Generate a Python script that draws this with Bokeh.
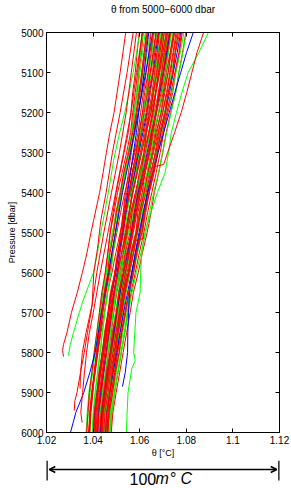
from bokeh.plotting import figure
from bokeh.layouts import column
from bokeh.models import (Range1d, LinearAxis, FixedTicker, Arrow, OpenHead,
                          ColumnDataSource)
from bokeh.core.properties import value
from bokeh.embed import file_html
from bokeh.resources import INLINE

# ---------------- data ----------------
# theta values are given in m°C above 1 °C (theta = 1 + v/1000)
title_text = "θ from 5000−6000 dbar"
x_ticks = [1.02, 1.04, 1.06, 1.08, 1.1, 1.12]
x_tick_labels = ["1.02", "1.04", "1.06", "1.08", "1.1", "1.12"]
y_ticks = [5000, 5100, 5200, 5300, 5400, 5500, 5600, 5700, 5800, 5900, 6000]
y_tick_labels = ["5000", "5100", "5200", "5300", "5400", "5500", "5600",
                 "5700", "5800", "5900", "6000"]
scale_bar = [1.02, 1.12]
scale_text = ["100", "m", "°", "C"]

pressure_grid = [5000, 5050, 5100, 5150, 5200, 5250, 5300, 5350, 5400, 5450,
                 5500, 5550, 5600, 5650, 5700, 5750, 5800, 5850, 5900, 5950, 6000]

bundle_green = [
    [63.8, 62.1, 61.4, 60.2, 58.6, 57.9, 56.1, 53.6, 51.9, 50.3, 48.7, 47.2, 45.8, 44.6, 43.1, 42.0, 40.9, 39.8, 38.7, 37.9, 37.4],
    [74.2, 73.1, 71.6, 70.4, 68.9, 67.2, 65.7, 63.9, 62.1, 60.8, 59.1, 57.2, 55.6, 54.1, 52.7, 51.3, 49.8, 48.7, 47.2, 46.1, 45.6],
    [67.4, 66.1, 64.9, 63.5, 62.2, 60.9, 59.8, 58.4, 56.9, 55.8, 54.6, 53.4, 52.1, 50.9, 49.6, 48.3, 47.1, 45.9, 44.6, 43.6, 43.1],
    [71.1, 70.2, 69.1, 68.2, 67.0, 65.8, 64.6, 63.7, 62.1, 61.2, 60.3, 58.9, 57.4, 55.9, 54.6, 53.4, 52.1, 50.6, 49.3, 48.1, 47.6],
    [64.6, 63.2, 62.1, 60.8, 59.4, 58.1, 56.0, 53.9, 51.6, 50.0, 48.2, 46.9, 45.6, 43.9, 42.7, 41.6, 40.4, 39.4, 38.2, 37.5, 37.0],
    [79.0, 77.4, 75.6, 73.8, 71.6, 69.4, 67.1, 64.8, 62.4, 60.3, 58.3, 56.1, 54.1, 52.2, 50.6, 49.1, 47.6, 46.1, 44.8, 43.6, 42.9],
    [61.4, 60.4, 59.5, 58.6, 57.6, 56.6, 55.1, 53.5, 51.9, 50.7, 49.6, 48.6, 47.6, 46.1, 45.1, 44.1, 43.1, 42.0, 41.0, 40.3, 39.9],
    [70.2, 68.9, 67.6, 66.1, 64.4, 62.7, 60.6, 58.5, 56.3, 54.4, 52.6, 50.9, 49.4, 47.8, 46.4, 45.1, 43.8, 42.6, 41.4, 40.4, 39.9],
    [76.4, 75.2, 73.6, 72.3, 70.6, 68.8, 67.3, 65.8, 63.9, 62.4, 60.9, 59.2, 57.3, 55.6, 54.1, 52.8, 51.4, 50.0, 48.6, 47.4, 46.8],
    [69.1, 67.9, 66.8, 65.6, 64.3, 62.9, 61.6, 60.1, 58.6, 57.3, 56.1, 54.8, 53.4, 51.9, 50.8, 49.6, 48.3, 47.1, 45.8, 44.7, 44.1],
    [72.3, 71.0, 69.6, 68.3, 66.4, 64.5, 62.7, 60.8, 58.7, 56.9, 55.2, 53.4, 51.7, 50.0, 48.6, 47.3, 45.9, 44.7, 43.5, 42.4, 41.9],
    [62.4, 61.2, 60.1, 59.2, 58.0, 56.9, 55.6, 54.0, 52.4, 51.1, 49.9, 48.7, 47.6, 46.3, 45.0, 43.9, 42.9, 41.9, 40.8, 40.0, 39.6],
    [80.0, 78.6, 76.9, 75.5, 73.5, 71.6, 69.8, 68.1, 66.0, 64.2, 62.6, 60.6, 58.6, 56.7, 55.1, 53.6, 52.0, 50.6, 49.1, 47.8, 47.2],
    [66.3, 65.2, 64.0, 62.9, 61.5, 60.3, 58.8, 57.4, 55.9, 54.7, 53.6, 52.4, 51.1, 49.7, 48.6, 47.6, 46.4, 45.3, 44.0, 43.1, 42.6],
    [73.7, 72.4, 71.1, 69.6, 68.1, 66.2, 64.9, 63.1, 61.3, 59.8, 58.3, 56.6, 55.0, 53.3, 52.0, 50.7, 49.3, 48.0, 46.6, 45.4, 44.9],
]

bundle_blue = [
    [68.1, 66.9, 65.8, 64.2, 63.1, 61.4, 59.6, 57.8, 56.1, 54.2, 52.9, 51.1, 49.6, 47.9, 46.5, 45.3, 43.9, 42.8, 41.7, 40.6, 40.1],
    [77.6, 76.1, 74.4, 72.8, 71.0, 69.1, 67.4, 65.6, 63.6, 61.8, 60.1, 58.3, 56.5, 54.8, 53.1, 51.6, 50.1, 48.6, 47.2, 45.9, 45.3],
    [63.9, 62.8, 61.9, 60.8, 59.6, 58.6, 57.3, 56.1, 54.8, 53.7, 52.6, 51.6, 50.3, 49.0, 47.9, 46.8, 45.6, 44.6, 43.4, 42.4, 42.0],
    [72.9, 71.6, 70.1, 68.6, 66.9, 65.1, 63.2, 61.5, 59.4, 57.8, 56.4, 54.8, 53.1, 51.6, 50.1, 48.9, 47.4, 46.1, 44.8, 43.7, 43.1],
]

bundle_red = [
    [61.5, 60.8, 59.6, 58.9, 57.4, 56.8, 55.1, 53.2, 51.6, 49.8, 48.6, 47.1, 46.4, 44.9, 43.6, 42.7, 41.4, 40.6, 39.3, 38.6, 38.1],
    [66.2, 65.1, 63.7, 62.9, 61.3, 60.1, 58.4, 56.9, 55.2, 53.4, 52.6, 50.8, 49.9, 48.1, 46.7, 45.8, 44.3, 43.1, 42.2, 41.3, 40.9],
    [70.4, 69.6, 68.1, 66.9, 65.8, 64.1, 62.6, 60.9, 58.8, 57.4, 56.2, 54.9, 53.1, 51.7, 50.4, 49.1, 47.6, 46.2, 45.1, 44.1, 43.4],
    [78.3, 77.1, 75.4, 74.2, 72.1, 70.3, 68.8, 67.1, 65.2, 63.4, 61.8, 59.9, 58.1, 56.3, 54.9, 53.6, 52.1, 50.7, 49.2, 47.9, 47.1],
    [72.1, 70.8, 69.4, 68.1, 66.2, 64.6, 62.4, 60.3, 58.2, 56.1, 54.4, 52.4, 50.6, 48.9, 47.3, 45.9, 44.6, 43.2, 41.9, 41.0, 40.4],
    [62.8, 61.9, 60.8, 59.9, 58.6, 57.6, 56.4, 55.2, 53.9, 52.9, 51.8, 50.9, 49.4, 48.4, 47.2, 46.1, 45.0, 44.1, 43.0, 42.1, 41.8],
    [76.1, 74.6, 73.2, 71.8, 69.9, 67.9, 65.8, 64.1, 61.9, 60.2, 58.4, 56.3, 54.6, 52.8, 51.2, 49.7, 48.4, 46.9, 45.4, 44.1, 43.6],
    [59.8, 58.9, 58.1, 57.0, 56.2, 55.1, 53.3, 51.6, 49.9, 48.6, 47.3, 46.4, 45.3, 44.1, 43.2, 42.4, 41.5, 40.6, 39.9, 39.1, 38.6],
    [69.4, 68.1, 66.6, 65.4, 63.9, 62.4, 60.7, 58.9, 57.1, 55.3, 54.0, 52.3, 51.0, 49.4, 48.1, 46.9, 45.7, 44.3, 43.2, 42.2, 41.6],
    [73.4, 72.2, 70.9, 69.6, 68.2, 66.6, 65.2, 63.6, 61.8, 60.4, 58.9, 57.3, 55.8, 54.1, 52.9, 51.6, 50.4, 49.1, 47.8, 46.7, 46.2],
    [66.0, 64.9, 63.9, 62.8, 61.6, 60.4, 59.2, 58.0, 56.6, 55.6, 54.8, 53.7, 52.4, 51.1, 50.0, 48.9, 47.6, 46.4, 45.1, 44.2, 43.7],
    [71.6, 70.1, 68.4, 66.8, 64.8, 62.9, 60.6, 58.1, 55.7, 53.6, 51.6, 49.8, 48.1, 46.2, 44.8, 43.4, 42.1, 40.9, 39.6, 38.7, 38.2],
    [75.0, 73.6, 72.1, 70.8, 69.1, 67.4, 65.9, 64.0, 62.2, 60.6, 59.0, 57.4, 55.6, 53.8, 52.4, 51.0, 49.6, 48.3, 46.8, 45.7, 45.0],
    [68.5, 67.6, 66.4, 65.4, 64.1, 63.0, 61.8, 60.6, 59.2, 58.1, 56.9, 55.6, 54.2, 52.9, 51.6, 50.5, 49.2, 47.9, 46.7, 45.6, 45.1],
    [79.8, 78.4, 76.8, 75.4, 73.3, 71.4, 69.9, 68.2, 66.3, 64.9, 63.2, 61.2, 59.4, 57.3, 55.9, 54.4, 52.9, 51.4, 49.9, 48.5, 47.8],
    [63.5, 62.4, 61.2, 60.2, 58.9, 57.6, 55.9, 54.1, 52.4, 50.9, 49.6, 48.1, 46.9, 45.4, 44.2, 43.1, 41.9, 40.8, 39.8, 38.9, 38.5],
    [72.6, 71.5, 70.0, 68.7, 67.0, 65.2, 63.6, 61.9, 59.9, 58.4, 56.8, 55.2, 53.6, 51.9, 50.6, 49.3, 47.9, 46.6, 45.3, 44.1, 43.7],
    [67.1, 65.9, 64.6, 63.3, 61.6, 60.1, 57.9, 55.8, 53.6, 51.8, 50.2, 48.6, 47.1, 45.5, 44.1, 43.1, 41.8, 40.7, 39.6, 38.8, 38.3],
    [74.6, 73.1, 71.4, 70.1, 68.2, 66.1, 64.3, 62.4, 60.3, 58.5, 56.9, 55.1, 53.6, 51.8, 50.3, 49.0, 47.6, 46.1, 44.9, 43.8, 43.1],
    [77.9, 76.8, 75.1, 73.4, 71.7, 69.8, 67.9, 66.2, 64.1, 62.6, 60.8, 58.9, 57.1, 55.4, 53.6, 52.1, 50.6, 49.3, 47.9, 46.7, 46.0],
    [68.3, 67.4, 65.9, 64.6, 63.4, 61.9, 60.3, 58.8, 57.0, 55.6, 54.4, 53.0, 51.8, 50.2, 48.9, 47.8, 46.6, 45.4, 44.2, 43.1, 42.6],
    [71.4, 69.9, 68.6, 67.1, 65.6, 63.9, 61.8, 60.1, 58.2, 56.4, 54.8, 53.1, 51.4, 49.8, 48.4, 47.1, 45.8, 44.4, 43.2, 42.2, 41.5],
    [73.0, 71.9, 70.4, 69.2, 67.3, 65.7, 64.0, 62.2, 60.4, 58.8, 57.3, 55.6, 53.9, 52.3, 50.9, 49.6, 48.2, 46.9, 45.6, 44.4, 43.9],
    [64.9, 63.9, 62.8, 61.6, 60.4, 59.3, 57.6, 56.0, 54.4, 53.1, 51.9, 50.6, 49.3, 47.8, 46.6, 45.6, 44.4, 43.3, 42.2, 41.3, 40.9],
    [75.6, 74.3, 72.9, 71.5, 69.8, 68.1, 66.6, 65.1, 63.2, 61.7, 60.3, 58.6, 56.9, 55.3, 53.9, 52.4, 51.2, 49.8, 48.4, 47.2, 46.4],
    [61.0, 60.1, 59.1, 58.1, 57.0, 56.1, 54.4, 52.5, 50.5, 49.0, 47.4, 46.3, 45.2, 43.7, 42.7, 41.6, 40.5, 39.5, 38.4, 37.8, 37.2],
    [70.6, 69.3, 68.0, 66.8, 65.4, 63.9, 62.5, 61.0, 59.3, 57.8, 56.5, 55.0, 53.7, 52.1, 50.9, 49.6, 48.4, 47.2, 45.9, 44.8, 44.3],
    [67.0, 65.7, 64.5, 63.1, 61.9, 60.5, 58.9, 57.1, 55.4, 53.9, 52.4, 50.9, 49.4, 47.8, 46.5, 45.3, 44.1, 42.9, 41.8, 40.9, 40.3],
    [69.8, 68.2, 67.3, 65.7, 64.9, 62.8, 61.9, 59.8, 58.6, 56.7, 55.8, 53.9, 52.9, 51.0, 50.1, 48.6, 47.6, 46.1, 45.2, 43.9, 43.5],
    [74.9, 73.2, 72.3, 70.4, 69.3, 67.0, 65.6, 63.5, 61.9, 59.9, 58.6, 56.4, 55.2, 53.1, 51.8, 50.2, 49.1, 47.5, 46.4, 45.1, 44.6],
    [65.8, 64.4, 63.6, 62.1, 61.2, 59.7, 58.6, 56.7, 55.6, 53.9, 53.1, 51.5, 50.6, 48.9, 48.0, 46.6, 45.8, 44.5, 43.6, 42.5, 42.1],
    [71.9, 70.5, 69.5, 68.0, 67.0, 65.3, 64.2, 62.3, 61.1, 59.2, 58.4, 56.4, 55.3, 53.4, 52.4, 50.7, 49.8, 48.3, 47.3, 45.9, 45.4],
    [63.2, 61.9, 61.0, 59.6, 58.5, 57.0, 55.3, 53.2, 51.8, 50.0, 48.9, 47.3, 46.4, 44.8, 43.9, 42.6, 41.7, 40.4, 39.7, 38.7, 38.3],
    [77.2, 75.4, 74.3, 72.2, 70.8, 68.5, 66.9, 64.6, 62.8, 60.4, 59.0, 56.7, 55.1, 52.9, 51.5, 49.8, 48.6, 47.0, 45.8, 44.4, 44.0],
    [72.8, 71.1, 70.2, 68.3, 67.2, 65.0, 63.6, 61.4, 59.9, 57.7, 56.7, 54.4, 53.2, 51.2, 50.0, 48.3, 47.3, 45.7, 44.7, 43.4, 42.9],
    [67.9, 66.4, 65.5, 63.8, 62.8, 60.9, 59.4, 57.2, 55.7, 53.6, 52.5, 50.5, 49.4, 47.4, 46.4, 44.9, 44.0, 42.5, 41.7, 40.5, 40.1],
    [76.6, 75.2, 74.1, 72.4, 71.1, 69.0, 67.6, 65.6, 64.1, 62.0, 60.9, 58.7, 57.4, 55.3, 54.0, 52.3, 51.2, 49.5, 48.4, 46.9, 46.3],
    [69.9, 68.7, 67.3, 66.0, 64.2, 62.6, 60.9, 59.0, 57.0, 55.4, 53.9, 52.3, 50.6, 49.0, 47.6, 46.4, 45.1, 43.8, 42.7, 41.7, 41.2],
]

# profiles with their own pressure levels
red_A_p = [5000, 5100, 5200, 5250, 5300, 5350, 5400, 5470, 5500, 5550, 5600, 5650, 5700, 5750, 5780, 5795, 5810]
red_A_t = [54.0, 51.6, 49.0, 47.2, 45.7, 44.3, 42.8, 40.2, 39.1, 37.4, 35.4, 33.2, 30.7, 28.8, 27.3, 26.9, 27.3]
red_A2_p = [5000, 5100, 5200, 5300, 5400, 5470, 5540, 5600, 5680, 5750, 5800, 5850, 5890]
red_A2_t = [57.2, 54.6, 51.6, 48.3, 45.6, 43.3, 41.9, 40.3, 39.6, 37.0, 35.4, 34.6, 34.4]
red_A3_p = [5000, 5100, 5200, 5300, 5400, 5500, 5600, 5700, 5750, 5800, 5850, 5900, 5920, 5945]
red_A3_t = [58.6, 56.4, 54.2, 51.3, 47.9, 44.6, 41.6, 39.1, 37.6, 36.2, 34.6, 33.1, 32.2, 31.9]
red_A4_p = [5000, 5100, 5200, 5300, 5400, 5500, 5600, 5700, 5750, 5800, 5850, 5900, 5950, 5975]
red_A4_t = [61.2, 58.6, 56.3, 53.1, 49.7, 46.4, 43.1, 40.1, 38.4, 37.2, 36.3, 35.5, 34.7, 35.3]
red_F_p = [5000, 5050, 5100, 5150, 5200, 5250, 5300, 5330, 5335, 5350, 5400, 5450, 5500, 5515, 5520,
           5550, 5600, 5650, 5700, 5750, 5800, 5850, 5900, 5950, 6000]
red_F_t = [87.4, 84.6, 82.4, 80.2, 77.8, 75.0, 72.0, 70.3, 66.6, 66.0, 64.0, 62.3, 61.3, 61.6, 58.2,
           57.4, 55.4, 53.7, 52.1, 50.6, 49.2, 48.1, 47.2, 46.4, 45.9]
green_B_p = [5000, 5100, 5200, 5260, 5320, 5380, 5440, 5500, 5550, 5600, 5670, 5700, 5750, 5780, 5808]
green_B_t = [60.1, 57.2, 53.6, 51.0, 48.8, 47.1, 45.3, 43.3, 41.9, 40.2, 35.7, 34.1, 31.6, 30.2, 29.4]
green_E_p = [5000, 5050, 5100, 5150, 5200, 5250, 5300, 5350, 5400, 5450, 5500, 5550, 5600, 5650,
             5700, 5750, 5800, 5820, 5840, 5900, 5950, 6000]
green_E_t = [89.5, 85.4, 80.8, 78.1, 75.8, 73.6, 72.4, 70.9, 67.6, 64.8, 62.2, 60.9, 60.4, 60.2,
             58.4, 57.9, 57.4, 58.1, 56.6, 55.0, 54.6, 54.3]
blue_C_p = [5000, 5100, 5200, 5300, 5400, 5500, 5600, 5700, 5800, 5850, 5900, 5950, 6000]
blue_C_t = [65.6, 62.6, 59.4, 56.1, 52.6, 49.6, 46.6, 43.6, 40.9, 38.6, 36.0, 32.6, 30.3]
blue_D_p = [5000, 5050, 5100, 5150, 5200, 5250, 5300, 5350, 5400, 5450, 5500, 5550, 5600, 5650,
            5700, 5750, 5800, 5850, 5885]
blue_D_t = [83.0, 80.1, 77.6, 75.1, 72.7, 70.3, 67.9, 65.7, 63.4, 61.5, 59.7, 58.1, 56.7, 55.6,
            55.2, 54.9, 54.8, 53.8, 52.6]

RED, GREEN, BLUE = "#ff0000", "#00ff00", "#0000ff"
FONT = "Liberation Sans"

# ---------------- build line sources ----------------
xs, ys, cs = [], [], []


def add(p_list, t_list, color):
    xs.append([1.0 + t / 1000.0 for t in t_list])
    ys.append(list(p_list))
    cs.append(color)


# interleave the colours so that every colour shows through somewhere
for prof in bundle_red[:14]:
    add(pressure_grid, prof, RED)
for prof in bundle_green[:8]:
    add(pressure_grid, prof, GREEN)
for prof in bundle_blue[:2]:
    add(pressure_grid, prof, BLUE)
for prof in bundle_red[14:28]:
    add(pressure_grid, prof, RED)
for prof in bundle_green[8:]:
    add(pressure_grid, prof, GREEN)
for prof in bundle_blue[2:]:
    add(pressure_grid, prof, BLUE)
add(green_B_p, green_B_t, GREEN)
add(green_E_p, green_E_t, GREEN)
add(blue_C_p, blue_C_t, BLUE)
add(blue_D_p, blue_D_t, BLUE)
for prof in bundle_red[28:]:
    add(pressure_grid, prof, RED)
add(red_A_p, red_A_t, RED)
add(red_A2_p, red_A2_t, RED)
add(red_A3_p, red_A3_t, RED)
add(red_A4_p, red_A4_t, RED)
add(red_F_p, red_F_t, RED)

src = ColumnDataSource(dict(xs=xs, ys=ys, color=cs))

x_range = Range1d(x_ticks[0], x_ticks[-1])

# ---------------- title strip ----------------
h = figure(frame_width=233, frame_height=20, x_range=x_range, y_range=Range1d(0, 20),
           output_backend="svg", toolbar_location=None, title=None,
           x_axis_type=None, y_axis_type=None,
           min_border_left=46, min_border_right=12, min_border_top=0, min_border_bottom=0)
h.grid.visible = False
h.outline_line_color = None
mid = (x_ticks[0] + x_ticks[-1]) / 2.0
h.text(x=[mid], y=[11], text=[title_text], text_font=value(FONT), text_font_size="10px",
       text_color="black", text_align="center", text_baseline="middle")

# ---------------- main figure ----------------
p = figure(frame_width=233, frame_height=400,
           x_range=x_range, y_range=Range1d(y_ticks[-1], y_ticks[0]),
           output_backend="svg", toolbar_location=None, title=None,
           min_border_left=46, min_border_right=12,
           min_border_top=12, min_border_bottom=0)
p.grid.visible = False
p.outline_line_color = "black"
p.outline_line_width = 1
p.background_fill_color = "white"
p.border_fill_color = "white"

p.multi_line(xs="xs", ys="ys", line_color="color", line_width=1, source=src)


def style_axis(ax, ticks, labels, show):
    ax.ticker = FixedTicker(ticks=ticks)
    ax.major_label_overrides = {t: (l if show else "") for t, l in zip(ticks, labels)}
    ax.major_tick_in = 4
    ax.major_tick_out = 0
    ax.minor_tick_in = 0
    ax.minor_tick_out = 0
    ax.axis_line_color = "black"
    ax.major_tick_line_color = "black"
    ax.major_label_text_font = FONT
    ax.major_label_text_color = "black"
    ax.major_label_text_font_size = "10px" if show else "0px"
    ax.major_label_standoff = 3 if show else 0
    ax.axis_label_text_font = FONT
    ax.axis_label_text_font_size = "9px"
    ax.axis_label_text_font_style = "normal"
    ax.axis_label_text_color = "black"
    ax.axis_label_standoff = 1


style_axis(p.xaxis[0], x_ticks, x_tick_labels, True)
p.xaxis[0].axis_label = "θ [°C]"
style_axis(p.yaxis[0], y_ticks, y_tick_labels, True)
p.yaxis[0].axis_label = "Pressure [dbar]"

top_ax = LinearAxis()
style_axis(top_ax, x_ticks, x_tick_labels, False)
p.add_layout(top_ax, "above")
right_ax = LinearAxis()
style_axis(right_ax, y_ticks, y_tick_labels, False)
p.add_layout(right_ax, "right")

# ---------------- scale bar figure ----------------
b = figure(frame_width=233, frame_height=28,
           x_range=x_range, y_range=Range1d(0, 28),
           output_backend="svg", toolbar_location=None, title=None,
           x_axis_type=None, y_axis_type=None,
           min_border_left=46, min_border_right=12,
           min_border_top=0, min_border_bottom=0)
b.grid.visible = False
b.outline_line_color = None
b.background_fill_color = "white"
b.border_fill_color = "white"
b.segment(x0=scale_bar, y0=[28, 28], x1=scale_bar, y1=[8, 8],
          line_color="black", line_width=2.5)
b.add_layout(Arrow(start=OpenHead(size=6, line_width=1.5, line_color="black"),
                   end=OpenHead(size=6, line_width=1.5, line_color="black"),
                   x_start=scale_bar[0] + 0.0012, x_end=scale_bar[1] - 0.0012,
                   y_start=19, y_end=19, line_width=1.5, line_color="black"))
b.text(x=[mid], y=[10], text=[scale_text[0]], x_offset=-33.5,
       text_font=value(FONT), text_font_size="16px", text_color="black",
       text_align="left", text_baseline="middle")
b.text(x=[mid], y=[10], text=[scale_text[1]], x_offset=-7.5,
       text_font=value(FONT), text_font_style="italic",
       text_font_size="16px", text_color="black",
       text_align="left", text_baseline="middle")
b.text(x=[mid], y=[10], text=[scale_text[2]], x_offset=7.0,
       text_font=value(FONT), text_font_size="16px", text_color="black",
       text_align="left", text_baseline="middle")
b.text(x=[mid], y=[10], text=[scale_text[3]], x_offset=17.5,
       text_font=value(FONT), text_font_style="italic",
       text_font_size="16px", text_color="black",
       text_align="left", text_baseline="middle")

layout = column(h, p, b, spacing=0)
open("out.html", "w").write(file_html(layout, INLINE))
